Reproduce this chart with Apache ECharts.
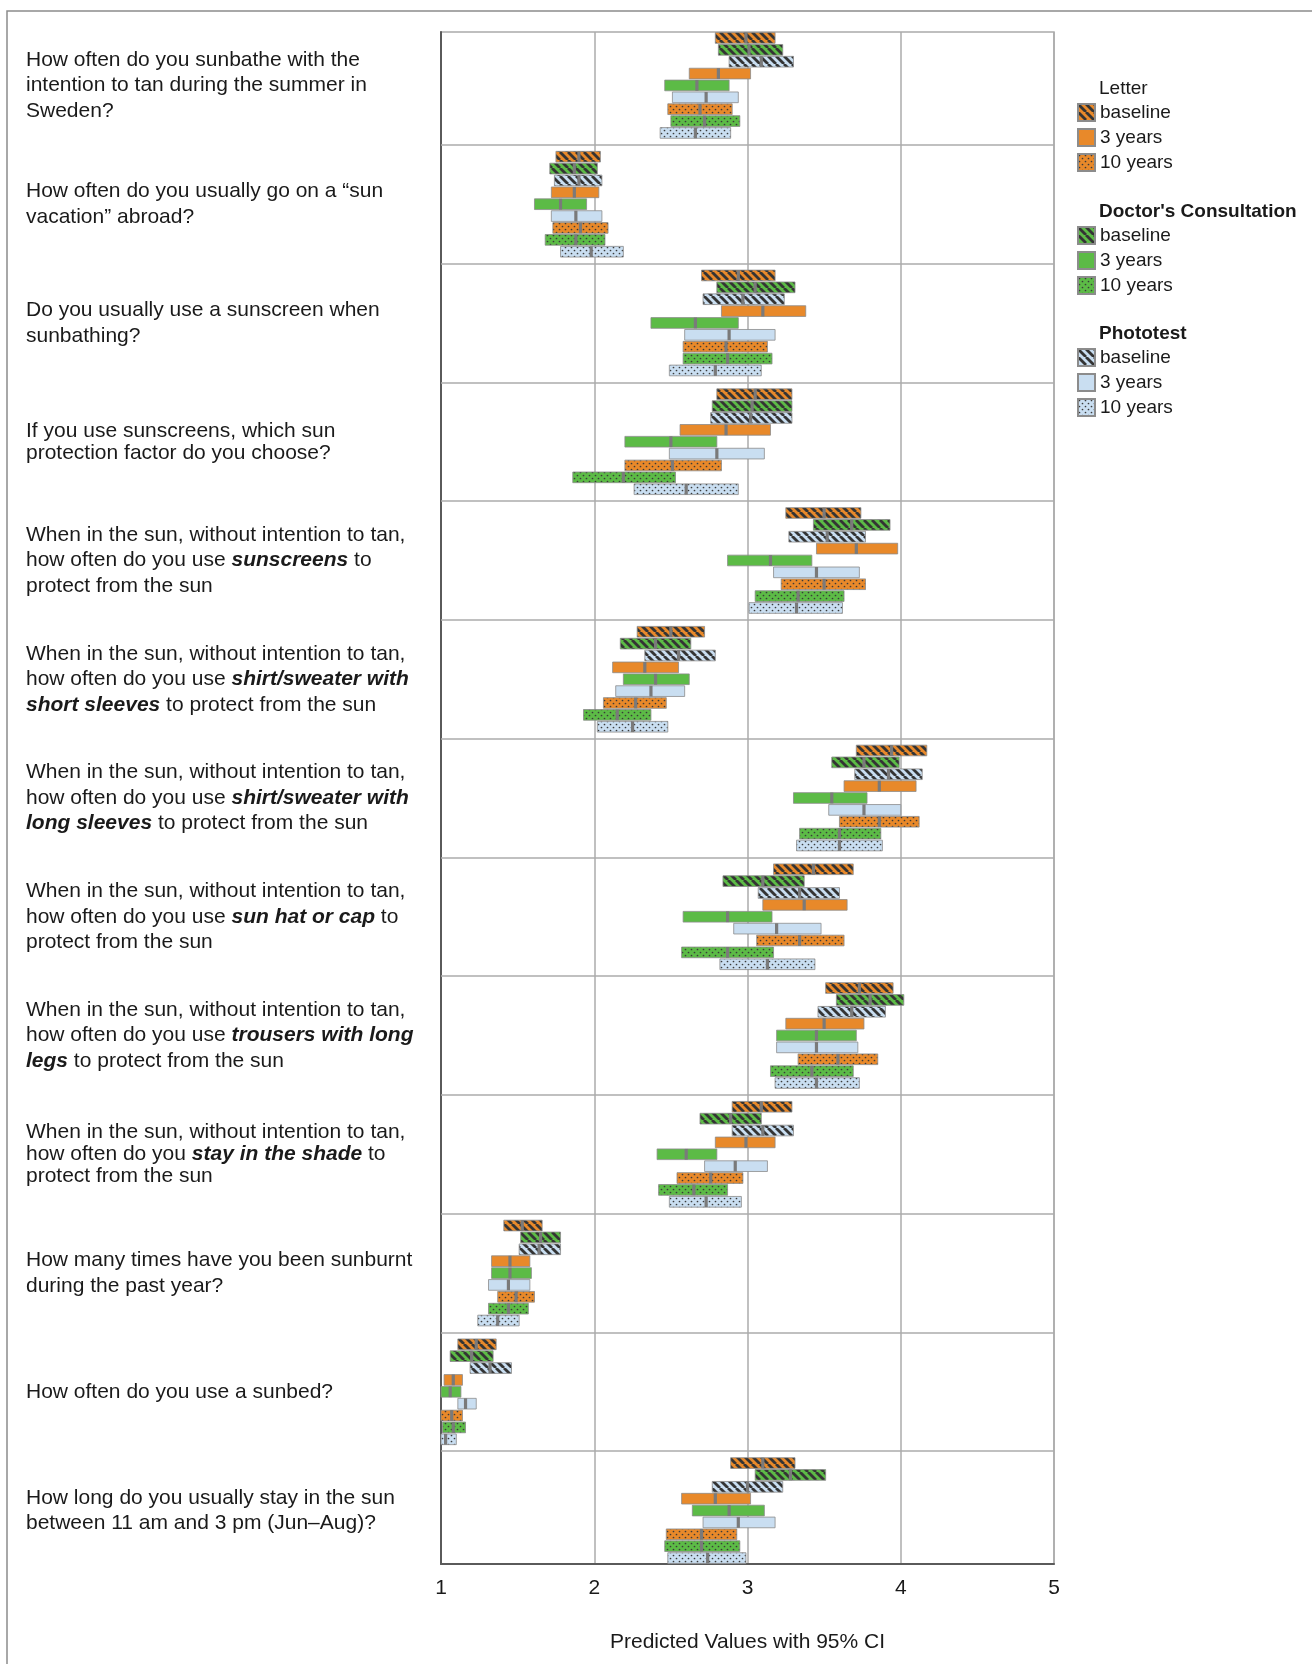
<!DOCTYPE html>
<html><head><meta charset="utf-8">
<script src="https://cdn.jsdelivr.net/npm/echarts@6.0.0/dist/echarts.min.js"></script>
<style>html,body{margin:0;padding:0;background:#fff}#c{width:1312px;height:1664px}</style>
</head><body><div id="c"></div><script>
// ---------------- DATA ----------------
const questions = [
  "How often do you sunbathe with the\nintention to tan during the summer in\nSweden?",
  "How often do you usually go on a \u201csun\nvacation\u201d abroad?",
  "Do you usually use a sunscreen when\nsunbathing?",
  "{t|If you use sunscreens, which sun}\n{t|protection factor do you choose?}",
  "When in the sun, without intention to tan,\nhow often do you use {bi|sunscreens} to\nprotect from the sun",
  "When in the sun, without intention to tan,\nhow often do you use {bi|shirt/sweater with}\n{bi|short sleeves} to protect from the sun",
  "When in the sun, without intention to tan,\nhow often do you use {bi|shirt/sweater with}\n{bi|long sleeves} to protect from the sun",
  "When in the sun, without intention to tan,\nhow often do you use {bi|sun hat or cap} to\nprotect from the sun",
  "When in the sun, without intention to tan,\nhow often do you use {bi|trousers with long}\n{bi|legs} to protect from the sun",
  "{t|When in the sun, without intention to tan,}\n{t|how often do you }{ti|stay in the shade}{t| to}\n{t|protect from the sun}",
  "How many times have you been sunburnt\nduring the past year?",
  "How often do you use a sunbed?",
  "How long do you usually stay in the sun\nbetween 11 am and 3 pm (Jun\u2013Aug)?"
];
const groupNames = ["Letter", "Doctor's Consultation", "Phototest"];
const timeNames = ["baseline", "3 years", "10 years"];
const xTicks = [1, 2, 3, 4, 5];
const axisTitle = "Predicted Values with 95% CI";

// each entry: [lower CI, predicted value, upper CI], one per question
const letterBaseline = [[2.79,2.99,3.18],[1.75,1.90,2.04],[2.70,2.94,3.18],[2.80,3.05,3.29],[3.25,3.50,3.74],[2.28,2.50,2.72],[3.71,3.94,4.17],[3.17,3.43,3.69],[3.51,3.73,3.95],[2.90,3.09,3.29],[1.41,1.53,1.66],[1.11,1.23,1.36],[2.89,3.10,3.31]];
const doctorBaseline = [[2.81,3.01,3.23],[1.71,1.87,2.02],[2.80,3.05,3.31],[2.77,3.03,3.29],[3.43,3.68,3.93],[2.17,2.40,2.63],[3.55,3.76,3.99],[2.84,3.10,3.37],[3.58,3.80,4.02],[2.69,2.89,3.09],[1.52,1.65,1.78],[1.06,1.20,1.34],[3.05,3.28,3.51]];
const photoBaseline  = [[2.88,3.09,3.30],[1.74,1.90,2.05],[2.71,2.97,3.24],[2.76,3.02,3.29],[3.27,3.52,3.77],[2.33,2.55,2.79],[3.70,3.92,4.14],[3.07,3.34,3.60],[3.46,3.68,3.90],[2.90,3.10,3.30],[1.51,1.64,1.78],[1.19,1.32,1.46],[2.77,3.00,3.23]];
const letter3y  = [[2.62,2.81,3.02],[1.72,1.87,2.03],[2.83,3.10,3.38],[2.56,2.86,3.15],[3.45,3.71,3.98],[2.12,2.33,2.55],[3.63,3.86,4.10],[3.10,3.37,3.65],[3.25,3.50,3.76],[2.79,2.99,3.18],[1.33,1.45,1.58],[1.02,1.08,1.14],[2.57,2.79,3.02]];
const doctor3y  = [[2.46,2.67,2.88],[1.61,1.78,1.95],[2.37,2.66,2.94],[2.20,2.50,2.80],[2.87,3.15,3.42],[2.19,2.40,2.62],[3.30,3.55,3.78],[2.58,2.87,3.16],[3.19,3.45,3.71],[2.41,2.60,2.80],[1.33,1.45,1.59],[0.98,1.06,1.13],[2.64,2.88,3.11]];
const photo3y   = [[2.51,2.73,2.94],[1.72,1.88,2.05],[2.59,2.88,3.18],[2.49,2.80,3.11],[3.17,3.45,3.73],[2.14,2.37,2.59],[3.53,3.76,4.00],[2.91,3.19,3.48],[3.19,3.45,3.72],[2.72,2.92,3.13],[1.31,1.44,1.58],[1.11,1.16,1.23],[2.71,2.94,3.18]];
const letter10y = [[2.48,2.69,2.90],[1.73,1.91,2.09],[2.58,2.86,3.13],[2.20,2.51,2.83],[3.22,3.50,3.77],[2.06,2.27,2.47],[3.60,3.86,4.12],[3.06,3.34,3.63],[3.33,3.59,3.85],[2.54,2.76,2.97],[1.37,1.49,1.61],[0.99,1.07,1.14],[2.47,2.70,2.93]];
const doctor10y = [[2.50,2.72,2.95],[1.68,1.88,2.07],[2.58,2.87,3.16],[1.86,2.19,2.53],[3.05,3.33,3.63],[1.93,2.15,2.37],[3.34,3.60,3.87],[2.57,2.87,3.17],[3.15,3.42,3.69],[2.42,2.65,2.87],[1.31,1.44,1.57],[1.01,1.08,1.16],[2.46,2.70,2.95]];
const photo10y  = [[2.43,2.66,2.89],[1.78,1.98,2.19],[2.49,2.79,3.09],[2.26,2.60,2.94],[3.01,3.32,3.62],[2.02,2.25,2.48],[3.32,3.60,3.88],[2.82,3.13,3.44],[3.18,3.45,3.73],[2.49,2.73,2.96],[1.24,1.37,1.51],[0.98,1.03,1.10],[2.48,2.74,2.99]];

// ---------------- STYLE ----------------
const FONT = '"Liberation Sans", Arial, Helvetica, sans-serif';
const TXT = '#1a1a1a';
const groupColors = ['#E8892A', '#5CBB46', '#C9DEF1'];
const timeKinds = ['hatch', 'solid', 'dots'];

function makeFill(base, kind) {
  if (kind === 'solid') return base;
  const s = kind === 'hatch' ? 8 : 6;
  const c = document.createElement('canvas');
  c.width = s; c.height = s;
  const g = c.getContext('2d');
  g.fillStyle = base; g.fillRect(0, 0, s, s);
  if (kind === 'hatch') {
    g.strokeStyle = '#343434'; g.lineWidth = 2.8;
    for (const o of [-s, 0, s]) { g.beginPath(); g.moveTo(o, 0); g.lineTo(o + s, s); g.stroke(); }
  } else {
    g.fillStyle = '#3a3a3a';
    for (const [x, y] of [[1.5, 1.5], [4.5, 4.5]]) { g.beginPath(); g.arc(x, y, 0.85, 0, Math.PI * 2); g.fill(); }
  }
  return { image: c, repeat: 'repeat' };
}

const table = [
  [letterBaseline, letter3y, letter10y],
  [doctorBaseline, doctor3y, doctor10y],
  [photoBaseline, photo3y, photo10y]
];

// category slots: 9 bars per question + one empty separator slot
const slots = [];
questions.forEach((q, qi) => {
  for (let j = 0; j < 9; j++) slots.push('q' + qi + '_' + j);
  if (qi < questions.length - 1) slots.push('gap' + qi);
});
const labelAt = {};
questions.forEach((q, qi) => { labelAt[qi * 10 + 4] = q; });

function makeRender(fill) {
  return function (params, api) {
    const slot = api.value(0);
    const a = api.coord([api.value(1), slot]);
    const b = api.coord([api.value(3), slot]);
    const m = api.coord([api.value(2), slot]);
    const h = api.size([0, 1])[1] * 0.9;
    const cs = params.coordSys;
    const clip = { x: cs.x, y: cs.y, width: cs.width, height: cs.height };
    const bar = echarts.graphic.clipRectByRect({ x: a[0], y: a[1] - h / 2, width: b[0] - a[0], height: h }, clip);
    const tick = echarts.graphic.clipRectByRect({ x: m[0] - 1.6, y: m[1] - h / 2, width: 3.2, height: h }, clip);
    const ch = [];
    if (bar) ch.push({ type: 'rect', shape: bar, style: { fill: fill, stroke: '#8c8c8c', lineWidth: 0.8 } });
    if (tick) ch.push({ type: 'rect', shape: tick, style: { fill: '#7a7a7a' } });
    return { type: 'group', children: ch };
  };
}

const series = [];
groupNames.forEach((gn, gi) => {
  timeNames.forEach((tn, ti) => {
    const fill = makeFill(groupColors[gi], timeKinds[ti]);
    series.push({
      name: gn + '|' + tn,
      type: 'custom',
      renderItem: makeRender(fill),
      encode: { x: [1, 2, 3], y: 0 },
      itemStyle: { color: fill, borderColor: '#8c8c8c', borderWidth: 0.8 },
      data: table[gi][ti].map((d, qi) => [qi * 10 + ti * 3 + gi, d[0], d[1], d[2]]),
      animation: false
    });
  });
});
series[0].markLine = {
  silent: true, symbol: ['none', 'none'], label: { show: false }, animation: false,
  lineStyle: { color: '#ababab', width: 1.5, type: 'solid' },
  data: slots.filter(s => s.startsWith('gap')).map(s => ({ yAxis: s }))
};

const legendTops = [103, 226, 348];
const headerTops = [79, 202, 324];

const option = {
  animation: false,
  backgroundColor: '#fff',
  textStyle: { fontFamily: FONT },
  title: groupNames.map((gn, gi) => ({
    text: gn, left: 1099, top: headerTops[gi], padding: 0,
    textStyle: { fontSize: 19, fontWeight: gi === 0 ? 'normal' : 'bold', color: TXT, fontFamily: FONT }
  })),
  legend: groupNames.map((gn, gi) => ({
    orient: 'vertical', left: 1077, top: legendTops[gi], padding: 0,
    itemWidth: 17, itemHeight: 17, itemGap: 6, icon: 'rect', selectedMode: false,
    data: timeNames.map(tn => gn + '|' + tn),
    formatter: n => n.split('|')[1],
    textStyle: { fontSize: 19, color: TXT, fontFamily: FONT }
  })),
  grid: { left: 441, top: 32, width: 613, height: 1532, show: true, borderColor: '#ababab', borderWidth: 1.5 },
  xAxis: {
    type: 'value', min: 1, max: 5, interval: 1,
    axisLine: { show: true, lineStyle: { color: '#5a5a5a', width: 2 } },
    axisTick: { show: false },
    splitLine: { show: true, lineStyle: { color: '#ababab', width: 1.5 } },
    axisLabel: { fontSize: 21, color: TXT, margin: 14, fontFamily: FONT, formatter: v => xTicks.includes(v) ? String(v) : '' },
    name: axisTitle, nameLocation: 'middle', nameGap: 68,
    nameTextStyle: { fontSize: 21, color: TXT, fontFamily: FONT }
  },
  yAxis: {
    type: 'category', inverse: true, data: slots,
    axisLine: { show: true, lineStyle: { color: '#5a5a5a', width: 2 } },
    axisTick: { show: false },
    splitLine: { show: false },
    axisLabel: {
      interval: 0, align: 'left', margin: 415,
      fontSize: 21, lineHeight: 25.5, color: TXT, fontFamily: FONT,
      formatter: (v, i) => labelAt[i] || '',
      rich: {
        bi: { fontSize: 21, lineHeight: 25.5, fontWeight: 'bold', fontStyle: 'italic', color: TXT, fontFamily: FONT },
        t:  { fontSize: 21, lineHeight: 22, color: TXT, fontFamily: FONT },
        ti: { fontSize: 21, lineHeight: 22, fontWeight: 'bold', fontStyle: 'italic', color: TXT, fontFamily: FONT }
      }
    }
  },
  graphic: [{
    type: 'rect', silent: true, z: -10,
    shape: { x: 7, y: 11, width: 1340, height: 1700 },
    style: { fill: 'none', stroke: '#8c8c8c', lineWidth: 1.5 }
  }],
  series: series
};

const chart = echarts.init(document.getElementById('c'), null, { renderer: 'canvas' });
chart.setOption(option);
</script></body></html>
